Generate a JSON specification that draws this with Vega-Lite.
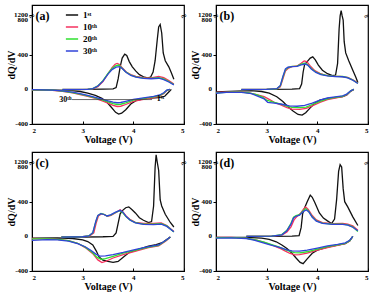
{
"$schema":"https://vega.github.io/schema/vega-lite/v6.json",
"padding":{"left":5,"top":4,"right":0,"bottom":0},
"config":{"font":"Liberation Serif","view":{"stroke":"black","strokeWidth":1.2},
"axis":{"grid":false,"labelOverlap":false,"labelFont":"Liberation Serif","labelFontWeight":"bold","labelFontSize":7,"labelColor":"black","titleFont":"Liberation Serif","titleFontWeight":"bold","titleFontSize":10,"titleColor":"black","domainColor":"black","tickColor":"black"}},
"datasets":{"ylab":[{"t":-400},{"t":0},{"t":400},{"t":800},{"t":1200}],"curves":[
{"p":"a","c":"1st","b":"c","v":2.6,"q":0},{"p":"a","c":"1st","b":"c","v":3.0,"q":0},{"p":"a","c":"1st","b":"c","v":3.4,"q":2},{"p":"a","c":"1st","b":"c","v":3.6,"q":5},{"p":"a","c":"1st","b":"c","v":3.66,"q":20},{"p":"a","c":"1st","b":"c","v":3.7,"q":120},{"p":"a","c":"1st","b":"c","v":3.74,"q":260},{"p":"a","c":"1st","b":"c","v":3.78,"q":360},{"p":"a","c":"1st","b":"c","v":3.83,"q":405},{"p":"a","c":"1st","b":"c","v":3.87,"q":390},{"p":"a","c":"1st","b":"c","v":3.92,"q":320},{"p":"a","c":"1st","b":"c","v":3.98,"q":260},{"p":"a","c":"1st","b":"c","v":4.05,"q":210},{"p":"a","c":"1st","b":"c","v":4.12,"q":170},{"p":"a","c":"1st","b":"c","v":4.2,"q":145},{"p":"a","c":"1st","b":"c","v":4.28,"q":132},{"p":"a","c":"1st","b":"c","v":4.34,"q":140},{"p":"a","c":"1st","b":"c","v":4.39,"q":200},{"p":"a","c":"1st","b":"c","v":4.43,"q":330},{"p":"a","c":"1st","b":"c","v":4.47,"q":560},{"p":"a","c":"1st","b":"c","v":4.5,"q":720},{"p":"a","c":"1st","b":"c","v":4.53,"q":748},{"p":"a","c":"1st","b":"c","v":4.56,"q":650},{"p":"a","c":"1st","b":"c","v":4.59,"q":420},{"p":"a","c":"1st","b":"c","v":4.63,"q":330},{"p":"a","c":"1st","b":"c","v":4.7,"q":260},{"p":"a","c":"1st","b":"c","v":4.75,"q":190},{"p":"a","c":"1st","b":"c","v":4.8,"q":116},
{"p":"a","c":"1st","b":"d","v":4.75,"q":0},{"p":"a","c":"1st","b":"d","v":4.7,"q":-30},{"p":"a","c":"1st","b":"d","v":4.62,"q":-80},{"p":"a","c":"1st","b":"d","v":4.5,"q":-95},{"p":"a","c":"1st","b":"d","v":4.35,"q":-100},{"p":"a","c":"1st","b":"d","v":4.2,"q":-110},{"p":"a","c":"1st","b":"d","v":4.05,"q":-130},{"p":"a","c":"1st","b":"d","v":3.95,"q":-170},{"p":"a","c":"1st","b":"d","v":3.85,"q":-235},{"p":"a","c":"1st","b":"d","v":3.77,"q":-275},{"p":"a","c":"1st","b":"d","v":3.71,"q":-285},{"p":"a","c":"1st","b":"d","v":3.65,"q":-265},{"p":"a","c":"1st","b":"d","v":3.57,"q":-210},{"p":"a","c":"1st","b":"d","v":3.48,"q":-150},{"p":"a","c":"1st","b":"d","v":3.38,"q":-105},{"p":"a","c":"1st","b":"d","v":3.25,"q":-70},{"p":"a","c":"1st","b":"d","v":3.1,"q":-45},{"p":"a","c":"1st","b":"d","v":2.95,"q":-25},{"p":"a","c":"1st","b":"d","v":2.75,"q":-12},{"p":"a","c":"1st","b":"d","v":2.5,"q":-8},{"p":"a","c":"1st","b":"d","v":2.0,"q":-5},
{"p":"a","c":"10th","b":"c","v":2.6,"q":-5},{"p":"a","c":"10th","b":"c","v":2.9,"q":-3},{"p":"a","c":"10th","b":"c","v":3.1,"q":0},{"p":"a","c":"10th","b":"c","v":3.2,"q":5},{"p":"a","c":"10th","b":"c","v":3.3,"q":30},{"p":"a","c":"10th","b":"c","v":3.4,"q":90},{"p":"a","c":"10th","b":"c","v":3.5,"q":180},{"p":"a","c":"10th","b":"c","v":3.58,"q":250},{"p":"a","c":"10th","b":"c","v":3.64,"q":290},{"p":"a","c":"10th","b":"c","v":3.68,"q":300},{"p":"a","c":"10th","b":"c","v":3.72,"q":290},{"p":"a","c":"10th","b":"c","v":3.78,"q":250},{"p":"a","c":"10th","b":"c","v":3.86,"q":200},{"p":"a","c":"10th","b":"c","v":3.95,"q":170},{"p":"a","c":"10th","b":"c","v":4.05,"q":150},{"p":"a","c":"10th","b":"c","v":4.2,"q":135},{"p":"a","c":"10th","b":"c","v":4.35,"q":132},{"p":"a","c":"10th","b":"c","v":4.5,"q":148},{"p":"a","c":"10th","b":"c","v":4.6,"q":135},{"p":"a","c":"10th","b":"c","v":4.7,"q":100},{"p":"a","c":"10th","b":"c","v":4.8,"q":62},
{"p":"a","c":"10th","b":"d","v":4.72,"q":0},{"p":"a","c":"10th","b":"d","v":4.66,"q":-15},{"p":"a","c":"10th","b":"d","v":4.6,"q":-50},{"p":"a","c":"10th","b":"d","v":4.52,"q":-75},{"p":"a","c":"10th","b":"d","v":4.4,"q":-95},{"p":"a","c":"10th","b":"d","v":4.2,"q":-115},{"p":"a","c":"10th","b":"d","v":4.0,"q":-140},{"p":"a","c":"10th","b":"d","v":3.85,"q":-175},{"p":"a","c":"10th","b":"d","v":3.75,"q":-195},{"p":"a","c":"10th","b":"d","v":3.68,"q":-198},{"p":"a","c":"10th","b":"d","v":3.6,"q":-185},{"p":"a","c":"10th","b":"d","v":3.5,"q":-160},{"p":"a","c":"10th","b":"d","v":3.4,"q":-135},{"p":"a","c":"10th","b":"d","v":3.25,"q":-105},{"p":"a","c":"10th","b":"d","v":3.1,"q":-80},{"p":"a","c":"10th","b":"d","v":2.95,"q":-60},{"p":"a","c":"10th","b":"d","v":2.8,"q":-40},{"p":"a","c":"10th","b":"d","v":2.6,"q":-22},{"p":"a","c":"10th","b":"d","v":2.4,"q":-12},{"p":"a","c":"10th","b":"d","v":2.0,"q":-8},
{"p":"a","c":"20th","b":"c","v":2.6,"q":-5},{"p":"a","c":"20th","b":"c","v":3.1,"q":0},{"p":"a","c":"20th","b":"c","v":3.2,"q":8},{"p":"a","c":"20th","b":"c","v":3.3,"q":40},{"p":"a","c":"20th","b":"c","v":3.4,"q":100},{"p":"a","c":"20th","b":"c","v":3.5,"q":185},{"p":"a","c":"20th","b":"c","v":3.58,"q":240},{"p":"a","c":"20th","b":"c","v":3.65,"q":270},{"p":"a","c":"20th","b":"c","v":3.71,"q":280},{"p":"a","c":"20th","b":"c","v":3.76,"q":255},{"p":"a","c":"20th","b":"c","v":3.84,"q":205},{"p":"a","c":"20th","b":"c","v":3.95,"q":165},{"p":"a","c":"20th","b":"c","v":4.05,"q":145},{"p":"a","c":"20th","b":"c","v":4.2,"q":130},{"p":"a","c":"20th","b":"c","v":4.35,"q":126},{"p":"a","c":"20th","b":"c","v":4.5,"q":135},{"p":"a","c":"20th","b":"c","v":4.6,"q":120},{"p":"a","c":"20th","b":"c","v":4.7,"q":90},{"p":"a","c":"20th","b":"c","v":4.8,"q":55},
{"p":"a","c":"20th","b":"d","v":4.72,"q":0},{"p":"a","c":"20th","b":"d","v":4.66,"q":-12},{"p":"a","c":"20th","b":"d","v":4.6,"q":-45},{"p":"a","c":"20th","b":"d","v":4.52,"q":-70},{"p":"a","c":"20th","b":"d","v":4.4,"q":-88},{"p":"a","c":"20th","b":"d","v":4.2,"q":-105},{"p":"a","c":"20th","b":"d","v":4.0,"q":-125},{"p":"a","c":"20th","b":"d","v":3.85,"q":-155},{"p":"a","c":"20th","b":"d","v":3.75,"q":-172},{"p":"a","c":"20th","b":"d","v":3.68,"q":-175},{"p":"a","c":"20th","b":"d","v":3.6,"q":-165},{"p":"a","c":"20th","b":"d","v":3.5,"q":-145},{"p":"a","c":"20th","b":"d","v":3.4,"q":-125},{"p":"a","c":"20th","b":"d","v":3.25,"q":-98},{"p":"a","c":"20th","b":"d","v":3.1,"q":-75},{"p":"a","c":"20th","b":"d","v":2.95,"q":-55},{"p":"a","c":"20th","b":"d","v":2.8,"q":-37},{"p":"a","c":"20th","b":"d","v":2.6,"q":-20},{"p":"a","c":"20th","b":"d","v":2.4,"q":-10},{"p":"a","c":"20th","b":"d","v":2.0,"q":-6},
{"p":"a","c":"30th","b":"c","v":2.6,"q":-3},{"p":"a","c":"30th","b":"c","v":3.1,"q":0},{"p":"a","c":"30th","b":"c","v":3.2,"q":8},{"p":"a","c":"30th","b":"c","v":3.3,"q":38},{"p":"a","c":"30th","b":"c","v":3.4,"q":95},{"p":"a","c":"30th","b":"c","v":3.5,"q":175},{"p":"a","c":"30th","b":"c","v":3.58,"q":228},{"p":"a","c":"30th","b":"c","v":3.66,"q":255},{"p":"a","c":"30th","b":"c","v":3.73,"q":262},{"p":"a","c":"30th","b":"c","v":3.78,"q":240},{"p":"a","c":"30th","b":"c","v":3.86,"q":195},{"p":"a","c":"30th","b":"c","v":3.95,"q":160},{"p":"a","c":"30th","b":"c","v":4.05,"q":140},{"p":"a","c":"30th","b":"c","v":4.2,"q":127},{"p":"a","c":"30th","b":"c","v":4.35,"q":122},{"p":"a","c":"30th","b":"c","v":4.5,"q":128},{"p":"a","c":"30th","b":"c","v":4.6,"q":112},{"p":"a","c":"30th","b":"c","v":4.7,"q":85},{"p":"a","c":"30th","b":"c","v":4.8,"q":52},
{"p":"a","c":"30th","b":"d","v":4.72,"q":0},{"p":"a","c":"30th","b":"d","v":4.66,"q":-10},{"p":"a","c":"30th","b":"d","v":4.6,"q":-40},{"p":"a","c":"30th","b":"d","v":4.52,"q":-65},{"p":"a","c":"30th","b":"d","v":4.4,"q":-82},{"p":"a","c":"30th","b":"d","v":4.2,"q":-98},{"p":"a","c":"30th","b":"d","v":4.0,"q":-115},{"p":"a","c":"30th","b":"d","v":3.85,"q":-138},{"p":"a","c":"30th","b":"d","v":3.75,"q":-152},{"p":"a","c":"30th","b":"d","v":3.68,"q":-155},{"p":"a","c":"30th","b":"d","v":3.6,"q":-148},{"p":"a","c":"30th","b":"d","v":3.5,"q":-132},{"p":"a","c":"30th","b":"d","v":3.4,"q":-115},{"p":"a","c":"30th","b":"d","v":3.25,"q":-92},{"p":"a","c":"30th","b":"d","v":3.1,"q":-70},{"p":"a","c":"30th","b":"d","v":2.95,"q":-50},{"p":"a","c":"30th","b":"d","v":2.8,"q":-33},{"p":"a","c":"30th","b":"d","v":2.6,"q":-18},{"p":"a","c":"30th","b":"d","v":2.4,"q":-8},{"p":"a","c":"30th","b":"d","v":2.0,"q":-3},
{"p":"b","c":"1st","b":"c","v":2.5,"q":0},{"p":"b","c":"1st","b":"c","v":3.0,"q":0},{"p":"b","c":"1st","b":"c","v":3.5,"q":2},{"p":"b","c":"1st","b":"c","v":3.65,"q":8},{"p":"b","c":"1st","b":"c","v":3.69,"q":60},{"p":"b","c":"1st","b":"c","v":3.72,"q":200},{"p":"b","c":"1st","b":"c","v":3.75,"q":290},{"p":"b","c":"1st","b":"c","v":3.8,"q":320},{"p":"b","c":"1st","b":"c","v":3.86,"q":360},{"p":"b","c":"1st","b":"c","v":3.91,"q":375},{"p":"b","c":"1st","b":"c","v":3.96,"q":340},{"p":"b","c":"1st","b":"c","v":4.02,"q":280},{"p":"b","c":"1st","b":"c","v":4.1,"q":220},{"p":"b","c":"1st","b":"c","v":4.2,"q":180},{"p":"b","c":"1st","b":"c","v":4.3,"q":158},{"p":"b","c":"1st","b":"c","v":4.36,"q":165},{"p":"b","c":"1st","b":"c","v":4.4,"q":300},{"p":"b","c":"1st","b":"c","v":4.43,"q":700},{"p":"b","c":"1st","b":"c","v":4.45,"q":1100},{"p":"b","c":"1st","b":"c","v":4.47,"q":1280},{"p":"b","c":"1st","b":"c","v":4.49,"q":1100},{"p":"b","c":"1st","b":"c","v":4.51,"q":800},{"p":"b","c":"1st","b":"c","v":4.53,"q":550},{"p":"b","c":"1st","b":"c","v":4.56,"q":420},{"p":"b","c":"1st","b":"c","v":4.62,"q":330},{"p":"b","c":"1st","b":"c","v":4.7,"q":220},{"p":"b","c":"1st","b":"c","v":4.76,"q":140},{"p":"b","c":"1st","b":"c","v":4.8,"q":80},
{"p":"b","c":"1st","b":"d","v":4.72,"q":0},{"p":"b","c":"1st","b":"d","v":4.66,"q":-20},{"p":"b","c":"1st","b":"d","v":4.58,"q":-65},{"p":"b","c":"1st","b":"d","v":4.5,"q":-85},{"p":"b","c":"1st","b":"d","v":4.35,"q":-95},{"p":"b","c":"1st","b":"d","v":4.2,"q":-105},{"p":"b","c":"1st","b":"d","v":4.05,"q":-125},{"p":"b","c":"1st","b":"d","v":3.95,"q":-160},{"p":"b","c":"1st","b":"d","v":3.85,"q":-220},{"p":"b","c":"1st","b":"d","v":3.77,"q":-270},{"p":"b","c":"1st","b":"d","v":3.7,"q":-298},{"p":"b","c":"1st","b":"d","v":3.62,"q":-290},{"p":"b","c":"1st","b":"d","v":3.52,"q":-250},{"p":"b","c":"1st","b":"d","v":3.42,"q":-200},{"p":"b","c":"1st","b":"d","v":3.32,"q":-140},{"p":"b","c":"1st","b":"d","v":3.2,"q":-85},{"p":"b","c":"1st","b":"d","v":3.05,"q":-45},{"p":"b","c":"1st","b":"d","v":2.9,"q":-25},{"p":"b","c":"1st","b":"d","v":2.7,"q":-15},{"p":"b","c":"1st","b":"d","v":2.4,"q":-20},{"p":"b","c":"1st","b":"d","v":2.0,"q":-30},
{"p":"b","c":"10th","b":"c","v":2.5,"q":-3},{"p":"b","c":"10th","b":"c","v":3.0,"q":0},{"p":"b","c":"10th","b":"c","v":3.2,"q":5},{"p":"b","c":"10th","b":"c","v":3.27,"q":30},{"p":"b","c":"10th","b":"c","v":3.32,"q":120},{"p":"b","c":"10th","b":"c","v":3.37,"q":210},{"p":"b","c":"10th","b":"c","v":3.42,"q":240},{"p":"b","c":"10th","b":"c","v":3.5,"q":262},{"p":"b","c":"10th","b":"c","v":3.6,"q":270},{"p":"b","c":"10th","b":"c","v":3.68,"q":300},{"p":"b","c":"10th","b":"c","v":3.74,"q":328},{"p":"b","c":"10th","b":"c","v":3.79,"q":320},{"p":"b","c":"10th","b":"c","v":3.86,"q":270},{"p":"b","c":"10th","b":"c","v":3.95,"q":215},{"p":"b","c":"10th","b":"c","v":4.05,"q":185},{"p":"b","c":"10th","b":"c","v":4.15,"q":165},{"p":"b","c":"10th","b":"c","v":4.3,"q":152},{"p":"b","c":"10th","b":"c","v":4.45,"q":150},{"p":"b","c":"10th","b":"c","v":4.6,"q":138},{"p":"b","c":"10th","b":"c","v":4.7,"q":110},{"p":"b","c":"10th","b":"c","v":4.8,"q":75},
{"p":"b","c":"10th","b":"d","v":4.72,"q":0},{"p":"b","c":"10th","b":"d","v":4.66,"q":-20},{"p":"b","c":"10th","b":"d","v":4.58,"q":-65},{"p":"b","c":"10th","b":"d","v":4.5,"q":-85},{"p":"b","c":"10th","b":"d","v":4.35,"q":-100},{"p":"b","c":"10th","b":"d","v":4.2,"q":-120},{"p":"b","c":"10th","b":"d","v":4.05,"q":-150},{"p":"b","c":"10th","b":"d","v":3.9,"q":-190},{"p":"b","c":"10th","b":"d","v":3.78,"q":-220},{"p":"b","c":"10th","b":"d","v":3.65,"q":-232},{"p":"b","c":"10th","b":"d","v":3.5,"q":-228},{"p":"b","c":"10th","b":"d","v":3.4,"q":-210},{"p":"b","c":"10th","b":"d","v":3.28,"q":-180},{"p":"b","c":"10th","b":"d","v":3.15,"q":-150},{"p":"b","c":"10th","b":"d","v":3.05,"q":-115},{"p":"b","c":"10th","b":"d","v":2.95,"q":-85},{"p":"b","c":"10th","b":"d","v":2.8,"q":-60},{"p":"b","c":"10th","b":"d","v":2.65,"q":-40},{"p":"b","c":"10th","b":"d","v":2.5,"q":-30},{"p":"b","c":"10th","b":"d","v":2.3,"q":-30},{"p":"b","c":"10th","b":"d","v":2.0,"q":-35},
{"p":"b","c":"20th","b":"c","v":2.5,"q":-3},{"p":"b","c":"20th","b":"c","v":3.0,"q":0},{"p":"b","c":"20th","b":"c","v":3.2,"q":6},{"p":"b","c":"20th","b":"c","v":3.27,"q":40},{"p":"b","c":"20th","b":"c","v":3.32,"q":140},{"p":"b","c":"20th","b":"c","v":3.37,"q":225},{"p":"b","c":"20th","b":"c","v":3.42,"q":250},{"p":"b","c":"20th","b":"c","v":3.5,"q":265},{"p":"b","c":"20th","b":"c","v":3.6,"q":268},{"p":"b","c":"20th","b":"c","v":3.68,"q":290},{"p":"b","c":"20th","b":"c","v":3.75,"q":303},{"p":"b","c":"20th","b":"c","v":3.8,"q":290},{"p":"b","c":"20th","b":"c","v":3.88,"q":240},{"p":"b","c":"20th","b":"c","v":3.97,"q":200},{"p":"b","c":"20th","b":"c","v":4.07,"q":175},{"p":"b","c":"20th","b":"c","v":4.2,"q":158},{"p":"b","c":"20th","b":"c","v":4.35,"q":150},{"p":"b","c":"20th","b":"c","v":4.5,"q":148},{"p":"b","c":"20th","b":"c","v":4.6,"q":135},{"p":"b","c":"20th","b":"c","v":4.7,"q":108},{"p":"b","c":"20th","b":"c","v":4.8,"q":70},
{"p":"b","c":"20th","b":"d","v":4.72,"q":0},{"p":"b","c":"20th","b":"d","v":4.66,"q":-18},{"p":"b","c":"20th","b":"d","v":4.58,"q":-60},{"p":"b","c":"20th","b":"d","v":4.5,"q":-80},{"p":"b","c":"20th","b":"d","v":4.35,"q":-92},{"p":"b","c":"20th","b":"d","v":4.2,"q":-110},{"p":"b","c":"20th","b":"d","v":4.05,"q":-138},{"p":"b","c":"20th","b":"d","v":3.9,"q":-175},{"p":"b","c":"20th","b":"d","v":3.78,"q":-205},{"p":"b","c":"20th","b":"d","v":3.65,"q":-212},{"p":"b","c":"20th","b":"d","v":3.5,"q":-208},{"p":"b","c":"20th","b":"d","v":3.4,"q":-195},{"p":"b","c":"20th","b":"d","v":3.28,"q":-170},{"p":"b","c":"20th","b":"d","v":3.15,"q":-150},{"p":"b","c":"20th","b":"d","v":3.0,"q":-125},{"p":"b","c":"20th","b":"d","v":2.92,"q":-90},{"p":"b","c":"20th","b":"d","v":2.8,"q":-60},{"p":"b","c":"20th","b":"d","v":2.65,"q":-40},{"p":"b","c":"20th","b":"d","v":2.5,"q":-32},{"p":"b","c":"20th","b":"d","v":2.3,"q":-32},{"p":"b","c":"20th","b":"d","v":2.0,"q":-40},
{"p":"b","c":"30th","b":"c","v":2.5,"q":-3},{"p":"b","c":"30th","b":"c","v":3.0,"q":0},{"p":"b","c":"30th","b":"c","v":3.2,"q":8},{"p":"b","c":"30th","b":"c","v":3.27,"q":45},{"p":"b","c":"30th","b":"c","v":3.32,"q":150},{"p":"b","c":"30th","b":"c","v":3.37,"q":235},{"p":"b","c":"30th","b":"c","v":3.42,"q":255},{"p":"b","c":"30th","b":"c","v":3.5,"q":262},{"p":"b","c":"30th","b":"c","v":3.6,"q":265},{"p":"b","c":"30th","b":"c","v":3.68,"q":282},{"p":"b","c":"30th","b":"c","v":3.76,"q":292},{"p":"b","c":"30th","b":"c","v":3.81,"q":280},{"p":"b","c":"30th","b":"c","v":3.88,"q":235},{"p":"b","c":"30th","b":"c","v":3.97,"q":195},{"p":"b","c":"30th","b":"c","v":4.07,"q":170},{"p":"b","c":"30th","b":"c","v":4.2,"q":155},{"p":"b","c":"30th","b":"c","v":4.35,"q":148},{"p":"b","c":"30th","b":"c","v":4.5,"q":145},{"p":"b","c":"30th","b":"c","v":4.6,"q":132},{"p":"b","c":"30th","b":"c","v":4.7,"q":105},{"p":"b","c":"30th","b":"c","v":4.8,"q":68},
{"p":"b","c":"30th","b":"d","v":4.72,"q":0},{"p":"b","c":"30th","b":"d","v":4.66,"q":-16},{"p":"b","c":"30th","b":"d","v":4.58,"q":-55},{"p":"b","c":"30th","b":"d","v":4.5,"q":-75},{"p":"b","c":"30th","b":"d","v":4.35,"q":-88},{"p":"b","c":"30th","b":"d","v":4.2,"q":-100},{"p":"b","c":"30th","b":"d","v":4.05,"q":-125},{"p":"b","c":"30th","b":"d","v":3.9,"q":-160},{"p":"b","c":"30th","b":"d","v":3.75,"q":-185},{"p":"b","c":"30th","b":"d","v":3.6,"q":-195},{"p":"b","c":"30th","b":"d","v":3.45,"q":-190},{"p":"b","c":"30th","b":"d","v":3.3,"q":-172},{"p":"b","c":"30th","b":"d","v":3.15,"q":-160},{"p":"b","c":"30th","b":"d","v":3.02,"q":-150},{"p":"b","c":"30th","b":"d","v":2.95,"q":-110},{"p":"b","c":"30th","b":"d","v":2.82,"q":-78},{"p":"b","c":"30th","b":"d","v":2.7,"q":-50},{"p":"b","c":"30th","b":"d","v":2.5,"q":-35},{"p":"b","c":"30th","b":"d","v":2.2,"q":-35},{"p":"b","c":"30th","b":"d","v":2.0,"q":-45},
{"p":"c","c":"1st","b":"c","v":2.58,"q":-8},{"p":"c","c":"1st","b":"c","v":3.0,"q":-8},{"p":"c","c":"1st","b":"c","v":3.4,"q":-5},{"p":"c","c":"1st","b":"c","v":3.6,"q":0},{"p":"c","c":"1st","b":"c","v":3.66,"q":40},{"p":"c","c":"1st","b":"c","v":3.7,"q":150},{"p":"c","c":"1st","b":"c","v":3.74,"q":260},{"p":"c","c":"1st","b":"c","v":3.79,"q":300},{"p":"c","c":"1st","b":"c","v":3.85,"q":330},{"p":"c","c":"1st","b":"c","v":3.91,"q":340},{"p":"c","c":"1st","b":"c","v":3.97,"q":310},{"p":"c","c":"1st","b":"c","v":4.04,"q":270},{"p":"c","c":"1st","b":"c","v":4.12,"q":215},{"p":"c","c":"1st","b":"c","v":4.2,"q":185},{"p":"c","c":"1st","b":"c","v":4.3,"q":158},{"p":"c","c":"1st","b":"c","v":4.36,"q":170},{"p":"c","c":"1st","b":"c","v":4.4,"q":350},{"p":"c","c":"1st","b":"c","v":4.43,"q":800},{"p":"c","c":"1st","b":"c","v":4.45,"q":1340},{"p":"c","c":"1st","b":"c","v":4.47,"q":1200},{"p":"c","c":"1st","b":"c","v":4.5,"q":760},{"p":"c","c":"1st","b":"c","v":4.53,"q":420},{"p":"c","c":"1st","b":"c","v":4.56,"q":350},{"p":"c","c":"1st","b":"c","v":4.63,"q":255},{"p":"c","c":"1st","b":"c","v":4.73,"q":160},{"p":"c","c":"1st","b":"c","v":4.8,"q":108},
{"p":"c","c":"1st","b":"d","v":4.73,"q":-8},{"p":"c","c":"1st","b":"d","v":4.65,"q":-40},{"p":"c","c":"1st","b":"d","v":4.57,"q":-73},{"p":"c","c":"1st","b":"d","v":4.45,"q":-95},{"p":"c","c":"1st","b":"d","v":4.3,"q":-112},{"p":"c","c":"1st","b":"d","v":4.1,"q":-150},{"p":"c","c":"1st","b":"d","v":3.91,"q":-189},{"p":"c","c":"1st","b":"d","v":3.8,"q":-240},{"p":"c","c":"1st","b":"d","v":3.7,"q":-290},{"p":"c","c":"1st","b":"d","v":3.6,"q":-300},{"p":"c","c":"1st","b":"d","v":3.5,"q":-290},{"p":"c","c":"1st","b":"d","v":3.4,"q":-275},{"p":"c","c":"1st","b":"d","v":3.32,"q":-235},{"p":"c","c":"1st","b":"d","v":3.27,"q":-170},{"p":"c","c":"1st","b":"d","v":3.2,"q":-100},{"p":"c","c":"1st","b":"d","v":3.1,"q":-60},{"p":"c","c":"1st","b":"d","v":3.0,"q":-40},{"p":"c","c":"1st","b":"d","v":2.8,"q":-25},{"p":"c","c":"1st","b":"d","v":2.5,"q":-18},{"p":"c","c":"1st","b":"d","v":2.0,"q":-20},
{"p":"c","c":"10th","b":"c","v":2.58,"q":-8},{"p":"c","c":"10th","b":"c","v":3.0,"q":-5},{"p":"c","c":"10th","b":"c","v":3.14,"q":5},{"p":"c","c":"10th","b":"c","v":3.22,"q":40},{"p":"c","c":"10th","b":"c","v":3.27,"q":160},{"p":"c","c":"10th","b":"c","v":3.31,"q":235},{"p":"c","c":"10th","b":"c","v":3.37,"q":258},{"p":"c","c":"10th","b":"c","v":3.43,"q":250},{"p":"c","c":"10th","b":"c","v":3.49,"q":232},{"p":"c","c":"10th","b":"c","v":3.56,"q":242},{"p":"c","c":"10th","b":"c","v":3.66,"q":275},{"p":"c","c":"10th","b":"c","v":3.74,"q":305},{"p":"c","c":"10th","b":"c","v":3.79,"q":285},{"p":"c","c":"10th","b":"c","v":3.86,"q":232},{"p":"c","c":"10th","b":"c","v":3.94,"q":192},{"p":"c","c":"10th","b":"c","v":4.04,"q":162},{"p":"c","c":"10th","b":"c","v":4.2,"q":148},{"p":"c","c":"10th","b":"c","v":4.4,"q":148},{"p":"c","c":"10th","b":"c","v":4.55,"q":155},{"p":"c","c":"10th","b":"c","v":4.66,"q":125},{"p":"c","c":"10th","b":"c","v":4.8,"q":55},
{"p":"c","c":"10th","b":"d","v":4.73,"q":-8},{"p":"c","c":"10th","b":"d","v":4.65,"q":-50},{"p":"c","c":"10th","b":"d","v":4.5,"q":-110},{"p":"c","c":"10th","b":"d","v":4.3,"q":-130},{"p":"c","c":"10th","b":"d","v":4.05,"q":-170},{"p":"c","c":"10th","b":"d","v":3.8,"q":-210},{"p":"c","c":"10th","b":"d","v":3.6,"q":-250},{"p":"c","c":"10th","b":"d","v":3.45,"q":-290},{"p":"c","c":"10th","b":"d","v":3.38,"q":-302},{"p":"c","c":"10th","b":"d","v":3.3,"q":-272},{"p":"c","c":"10th","b":"d","v":3.2,"q":-200},{"p":"c","c":"10th","b":"d","v":3.05,"q":-130},{"p":"c","c":"10th","b":"d","v":2.9,"q":-80},{"p":"c","c":"10th","b":"d","v":2.72,"q":-50},{"p":"c","c":"10th","b":"d","v":2.5,"q":-35},{"p":"c","c":"10th","b":"d","v":2.3,"q":-30},{"p":"c","c":"10th","b":"d","v":2.0,"q":-25},
{"p":"c","c":"20th","b":"c","v":2.58,"q":-8},{"p":"c","c":"20th","b":"c","v":3.0,"q":-5},{"p":"c","c":"20th","b":"c","v":3.12,"q":5},{"p":"c","c":"20th","b":"c","v":3.2,"q":40},{"p":"c","c":"20th","b":"c","v":3.26,"q":170},{"p":"c","c":"20th","b":"c","v":3.3,"q":240},{"p":"c","c":"20th","b":"c","v":3.36,"q":265},{"p":"c","c":"20th","b":"c","v":3.42,"q":255},{"p":"c","c":"20th","b":"c","v":3.48,"q":235},{"p":"c","c":"20th","b":"c","v":3.55,"q":245},{"p":"c","c":"20th","b":"c","v":3.65,"q":275},{"p":"c","c":"20th","b":"c","v":3.73,"q":295},{"p":"c","c":"20th","b":"c","v":3.78,"q":280},{"p":"c","c":"20th","b":"c","v":3.85,"q":230},{"p":"c","c":"20th","b":"c","v":3.93,"q":190},{"p":"c","c":"20th","b":"c","v":4.04,"q":158},{"p":"c","c":"20th","b":"c","v":4.2,"q":140},{"p":"c","c":"20th","b":"c","v":4.4,"q":140},{"p":"c","c":"20th","b":"c","v":4.55,"q":145},{"p":"c","c":"20th","b":"c","v":4.66,"q":120},{"p":"c","c":"20th","b":"c","v":4.8,"q":50},
{"p":"c","c":"20th","b":"d","v":4.73,"q":-8},{"p":"c","c":"20th","b":"d","v":4.65,"q":-45},{"p":"c","c":"20th","b":"d","v":4.5,"q":-105},{"p":"c","c":"20th","b":"d","v":4.3,"q":-125},{"p":"c","c":"20th","b":"d","v":4.05,"q":-160},{"p":"c","c":"20th","b":"d","v":3.8,"q":-195},{"p":"c","c":"20th","b":"d","v":3.6,"q":-230},{"p":"c","c":"20th","b":"d","v":3.45,"q":-258},{"p":"c","c":"20th","b":"d","v":3.36,"q":-265},{"p":"c","c":"20th","b":"d","v":3.28,"q":-240},{"p":"c","c":"20th","b":"d","v":3.18,"q":-180},{"p":"c","c":"20th","b":"d","v":3.05,"q":-125},{"p":"c","c":"20th","b":"d","v":2.9,"q":-80},{"p":"c","c":"20th","b":"d","v":2.72,"q":-50},{"p":"c","c":"20th","b":"d","v":2.5,"q":-35},{"p":"c","c":"20th","b":"d","v":2.3,"q":-30},{"p":"c","c":"20th","b":"d","v":2.0,"q":-30},
{"p":"c","c":"30th","b":"c","v":2.58,"q":-8},{"p":"c","c":"30th","b":"c","v":3.0,"q":-5},{"p":"c","c":"30th","b":"c","v":3.12,"q":5},{"p":"c","c":"30th","b":"c","v":3.2,"q":42},{"p":"c","c":"30th","b":"c","v":3.26,"q":175},{"p":"c","c":"30th","b":"c","v":3.3,"q":242},{"p":"c","c":"30th","b":"c","v":3.36,"q":262},{"p":"c","c":"30th","b":"c","v":3.42,"q":252},{"p":"c","c":"30th","b":"c","v":3.48,"q":235},{"p":"c","c":"30th","b":"c","v":3.55,"q":248},{"p":"c","c":"30th","b":"c","v":3.65,"q":280},{"p":"c","c":"30th","b":"c","v":3.74,"q":300},{"p":"c","c":"30th","b":"c","v":3.79,"q":282},{"p":"c","c":"30th","b":"c","v":3.86,"q":228},{"p":"c","c":"30th","b":"c","v":3.94,"q":186},{"p":"c","c":"30th","b":"c","v":4.04,"q":155},{"p":"c","c":"30th","b":"c","v":4.2,"q":138},{"p":"c","c":"30th","b":"c","v":4.4,"q":136},{"p":"c","c":"30th","b":"c","v":4.55,"q":140},{"p":"c","c":"30th","b":"c","v":4.66,"q":115},{"p":"c","c":"30th","b":"c","v":4.8,"q":52},
{"p":"c","c":"30th","b":"d","v":4.73,"q":-8},{"p":"c","c":"30th","b":"d","v":4.65,"q":-42},{"p":"c","c":"30th","b":"d","v":4.5,"q":-100},{"p":"c","c":"30th","b":"d","v":4.3,"q":-118},{"p":"c","c":"30th","b":"d","v":4.05,"q":-150},{"p":"c","c":"30th","b":"d","v":3.8,"q":-185},{"p":"c","c":"30th","b":"d","v":3.6,"q":-210},{"p":"c","c":"30th","b":"d","v":3.45,"q":-225},{"p":"c","c":"30th","b":"d","v":3.34,"q":-228},{"p":"c","c":"30th","b":"d","v":3.26,"q":-205},{"p":"c","c":"30th","b":"d","v":3.16,"q":-160},{"p":"c","c":"30th","b":"d","v":3.05,"q":-120},{"p":"c","c":"30th","b":"d","v":2.9,"q":-85},{"p":"c","c":"30th","b":"d","v":2.72,"q":-55},{"p":"c","c":"30th","b":"d","v":2.5,"q":-40},{"p":"c","c":"30th","b":"d","v":2.3,"q":-38},{"p":"c","c":"30th","b":"d","v":2.0,"q":-46},
{"p":"d","c":"1st","b":"c","v":2.6,"q":0},{"p":"d","c":"1st","b":"c","v":3.0,"q":0},{"p":"d","c":"1st","b":"c","v":3.5,"q":2},{"p":"d","c":"1st","b":"c","v":3.64,"q":8},{"p":"d","c":"1st","b":"c","v":3.68,"q":100},{"p":"d","c":"1st","b":"c","v":3.71,"q":260},{"p":"d","c":"1st","b":"c","v":3.75,"q":330},{"p":"d","c":"1st","b":"c","v":3.8,"q":400},{"p":"d","c":"1st","b":"c","v":3.86,"q":475},{"p":"d","c":"1st","b":"c","v":3.9,"q":450},{"p":"d","c":"1st","b":"c","v":3.95,"q":390},{"p":"d","c":"1st","b":"c","v":4.04,"q":270},{"p":"d","c":"1st","b":"c","v":4.12,"q":210},{"p":"d","c":"1st","b":"c","v":4.2,"q":178},{"p":"d","c":"1st","b":"c","v":4.28,"q":148},{"p":"d","c":"1st","b":"c","v":4.34,"q":200},{"p":"d","c":"1st","b":"c","v":4.38,"q":420},{"p":"d","c":"1st","b":"c","v":4.42,"q":750},{"p":"d","c":"1st","b":"c","v":4.45,"q":975},{"p":"d","c":"1st","b":"c","v":4.48,"q":800},{"p":"d","c":"1st","b":"c","v":4.51,"q":550},{"p":"d","c":"1st","b":"c","v":4.54,"q":400},{"p":"d","c":"1st","b":"c","v":4.6,"q":340},{"p":"d","c":"1st","b":"c","v":4.7,"q":225},{"p":"d","c":"1st","b":"c","v":4.8,"q":125},
{"p":"d","c":"1st","b":"d","v":4.7,"q":0},{"p":"d","c":"1st","b":"d","v":4.64,"q":-50},{"p":"d","c":"1st","b":"d","v":4.55,"q":-85},{"p":"d","c":"1st","b":"d","v":4.4,"q":-100},{"p":"d","c":"1st","b":"d","v":4.2,"q":-125},{"p":"d","c":"1st","b":"d","v":4.0,"q":-160},{"p":"d","c":"1st","b":"d","v":3.9,"q":-195},{"p":"d","c":"1st","b":"d","v":3.8,"q":-260},{"p":"d","c":"1st","b":"d","v":3.72,"q":-315},{"p":"d","c":"1st","b":"d","v":3.66,"q":-300},{"p":"d","c":"1st","b":"d","v":3.58,"q":-250},{"p":"d","c":"1st","b":"d","v":3.5,"q":-195},{"p":"d","c":"1st","b":"d","v":3.4,"q":-140},{"p":"d","c":"1st","b":"d","v":3.3,"q":-100},{"p":"d","c":"1st","b":"d","v":3.19,"q":-63},{"p":"d","c":"1st","b":"d","v":3.05,"q":-35},{"p":"d","c":"1st","b":"d","v":2.9,"q":-20},{"p":"d","c":"1st","b":"d","v":2.6,"q":-12},{"p":"d","c":"1st","b":"d","v":2.0,"q":-12},
{"p":"d","c":"10th","b":"c","v":2.6,"q":0},{"p":"d","c":"10th","b":"c","v":3.1,"q":2},{"p":"d","c":"10th","b":"c","v":3.3,"q":15},{"p":"d","c":"10th","b":"c","v":3.4,"q":50},{"p":"d","c":"10th","b":"c","v":3.48,"q":110},{"p":"d","c":"10th","b":"c","v":3.54,"q":190},{"p":"d","c":"10th","b":"c","v":3.6,"q":230},{"p":"d","c":"10th","b":"c","v":3.67,"q":265},{"p":"d","c":"10th","b":"c","v":3.73,"q":315},{"p":"d","c":"10th","b":"c","v":3.77,"q":340},{"p":"d","c":"10th","b":"c","v":3.82,"q":310},{"p":"d","c":"10th","b":"c","v":3.9,"q":240},{"p":"d","c":"10th","b":"c","v":3.98,"q":190},{"p":"d","c":"10th","b":"c","v":4.1,"q":158},{"p":"d","c":"10th","b":"c","v":4.3,"q":145},{"p":"d","c":"10th","b":"c","v":4.5,"q":150},{"p":"d","c":"10th","b":"c","v":4.6,"q":140},{"p":"d","c":"10th","b":"c","v":4.7,"q":120},{"p":"d","c":"10th","b":"c","v":4.8,"q":70},
{"p":"d","c":"10th","b":"d","v":4.7,"q":0},{"p":"d","c":"10th","b":"d","v":4.64,"q":-55},{"p":"d","c":"10th","b":"d","v":4.55,"q":-85},{"p":"d","c":"10th","b":"d","v":4.4,"q":-105},{"p":"d","c":"10th","b":"d","v":4.2,"q":-130},{"p":"d","c":"10th","b":"d","v":4.0,"q":-160},{"p":"d","c":"10th","b":"d","v":3.8,"q":-195},{"p":"d","c":"10th","b":"d","v":3.65,"q":-212},{"p":"d","c":"10th","b":"d","v":3.55,"q":-215},{"p":"d","c":"10th","b":"d","v":3.45,"q":-195},{"p":"d","c":"10th","b":"d","v":3.35,"q":-165},{"p":"d","c":"10th","b":"d","v":3.25,"q":-135},{"p":"d","c":"10th","b":"d","v":3.1,"q":-100},{"p":"d","c":"10th","b":"d","v":2.95,"q":-70},{"p":"d","c":"10th","b":"d","v":2.8,"q":-45},{"p":"d","c":"10th","b":"d","v":2.6,"q":-20},{"p":"d","c":"10th","b":"d","v":2.3,"q":-12},{"p":"d","c":"10th","b":"d","v":2.0,"q":-12},
{"p":"d","c":"20th","b":"c","v":2.6,"q":0},{"p":"d","c":"20th","b":"c","v":3.1,"q":2},{"p":"d","c":"20th","b":"c","v":3.3,"q":20},{"p":"d","c":"20th","b":"c","v":3.4,"q":70},{"p":"d","c":"20th","b":"c","v":3.48,"q":150},{"p":"d","c":"20th","b":"c","v":3.53,"q":220},{"p":"d","c":"20th","b":"c","v":3.58,"q":238},{"p":"d","c":"20th","b":"c","v":3.65,"q":250},{"p":"d","c":"20th","b":"c","v":3.72,"q":295},{"p":"d","c":"20th","b":"c","v":3.77,"q":320},{"p":"d","c":"20th","b":"c","v":3.82,"q":295},{"p":"d","c":"20th","b":"c","v":3.9,"q":225},{"p":"d","c":"20th","b":"c","v":3.98,"q":180},{"p":"d","c":"20th","b":"c","v":4.1,"q":152},{"p":"d","c":"20th","b":"c","v":4.3,"q":140},{"p":"d","c":"20th","b":"c","v":4.5,"q":142},{"p":"d","c":"20th","b":"c","v":4.6,"q":133},{"p":"d","c":"20th","b":"c","v":4.7,"q":110},{"p":"d","c":"20th","b":"c","v":4.8,"q":55},
{"p":"d","c":"20th","b":"d","v":4.7,"q":0},{"p":"d","c":"20th","b":"d","v":4.64,"q":-50},{"p":"d","c":"20th","b":"d","v":4.55,"q":-80},{"p":"d","c":"20th","b":"d","v":4.4,"q":-98},{"p":"d","c":"20th","b":"d","v":4.2,"q":-120},{"p":"d","c":"20th","b":"d","v":4.0,"q":-148},{"p":"d","c":"20th","b":"d","v":3.8,"q":-178},{"p":"d","c":"20th","b":"d","v":3.65,"q":-190},{"p":"d","c":"20th","b":"d","v":3.55,"q":-188},{"p":"d","c":"20th","b":"d","v":3.45,"q":-172},{"p":"d","c":"20th","b":"d","v":3.35,"q":-150},{"p":"d","c":"20th","b":"d","v":3.25,"q":-125},{"p":"d","c":"20th","b":"d","v":3.1,"q":-95},{"p":"d","c":"20th","b":"d","v":2.95,"q":-68},{"p":"d","c":"20th","b":"d","v":2.8,"q":-45},{"p":"d","c":"20th","b":"d","v":2.6,"q":-22},{"p":"d","c":"20th","b":"d","v":2.3,"q":-15},{"p":"d","c":"20th","b":"d","v":2.0,"q":-15},
{"p":"d","c":"30th","b":"c","v":2.6,"q":0},{"p":"d","c":"30th","b":"c","v":3.1,"q":2},{"p":"d","c":"30th","b":"c","v":3.3,"q":18},{"p":"d","c":"30th","b":"c","v":3.4,"q":65},{"p":"d","c":"30th","b":"c","v":3.48,"q":140},{"p":"d","c":"30th","b":"c","v":3.53,"q":212},{"p":"d","c":"30th","b":"c","v":3.58,"q":232},{"p":"d","c":"30th","b":"c","v":3.65,"q":245},{"p":"d","c":"30th","b":"c","v":3.72,"q":285},{"p":"d","c":"30th","b":"c","v":3.78,"q":305},{"p":"d","c":"30th","b":"c","v":3.83,"q":285},{"p":"d","c":"30th","b":"c","v":3.9,"q":220},{"p":"d","c":"30th","b":"c","v":3.98,"q":175},{"p":"d","c":"30th","b":"c","v":4.1,"q":150},{"p":"d","c":"30th","b":"c","v":4.3,"q":138},{"p":"d","c":"30th","b":"c","v":4.5,"q":138},{"p":"d","c":"30th","b":"c","v":4.6,"q":130},{"p":"d","c":"30th","b":"c","v":4.7,"q":105},{"p":"d","c":"30th","b":"c","v":4.8,"q":65},
{"p":"d","c":"30th","b":"d","v":4.7,"q":0},{"p":"d","c":"30th","b":"d","v":4.64,"q":-45},{"p":"d","c":"30th","b":"d","v":4.55,"q":-75},{"p":"d","c":"30th","b":"d","v":4.4,"q":-92},{"p":"d","c":"30th","b":"d","v":4.2,"q":-110},{"p":"d","c":"30th","b":"d","v":4.0,"q":-135},{"p":"d","c":"30th","b":"d","v":3.8,"q":-160},{"p":"d","c":"30th","b":"d","v":3.65,"q":-170},{"p":"d","c":"30th","b":"d","v":3.5,"q":-168},{"p":"d","c":"30th","b":"d","v":3.4,"q":-155},{"p":"d","c":"30th","b":"d","v":3.3,"q":-135},{"p":"d","c":"30th","b":"d","v":3.2,"q":-118},{"p":"d","c":"30th","b":"d","v":3.05,"q":-95},{"p":"d","c":"30th","b":"d","v":2.9,"q":-70},{"p":"d","c":"30th","b":"d","v":2.75,"q":-45},{"p":"d","c":"30th","b":"d","v":2.6,"q":-25},{"p":"d","c":"30th","b":"d","v":2.3,"q":-18},{"p":"d","c":"30th","b":"d","v":2.0,"q":-20}
]},
"columns":2,
"spacing":{"row":28,"column":32},
"bounds":"flush",
"resolve":{"legend":{"color":"independent"}},
"concat":[
{"width":152,"height":119,"layer":[
 {"data":{"name":"curves"},"transform":[{"filter":"datum.p == 'a'"}],"mark":{"type":"line","strokeWidth":1.3},
  "encoding":{
   "x":{"field":"v","type":"quantitative","scale":{"domain":[2,5],"nice":false,"zero":false},"axis":{"title":"Voltage (V)","values":[2,2.5,3,3.5,4,4.5,5],"labelExpr":"datum.value % 1 == 0 ? '' + datum.value : ''","tickSize":-3,"labelPadding":5,"titlePadding":1,"labelOverlap":false}},
   "y":{"field":"q","type":"quantitative","scale":{"domain":[-400,800,1200,1400],"range":[119,15,9.5,0],"nice":false,"zero":false},"axis":{"title":"dQ/dV","values":[-400,0,400,800,1200],"labels":false,"tickSize":3,"titlePadding":12,"labelOverlap":false}},
   "color":{"field":"c","type":"nominal","scale":{"domain":["1st","10th","20th","30th"],"range":["#111111","#f5325f","#2fe02f","#3043d8"]},
     "legend":{"orient":"none","legendX":33,"legendY":3,"title":null,"padding":0,"symbolType":"stroke","symbolSize":150,"symbolStrokeWidth":1.5,"rowPadding":-2,"labelFont":"Liberation Serif","labelFontWeight":"bold","labelFontSize":9,"labelColor":"black","labelExpr":"datum.label == '1st' ? '1ˢᵗ' : replace(datum.label, 'th', 'ᵗʰ')"}},
   "detail":{"field":"b"},
   "order":{"value":null}}},
 {"data":{"name":"ylab"},"mark":{"type":"text","align":"right","baseline":"middle","dx":-4,"fontSize":7,"fontWeight":"bold","font":"Liberation Serif","color":"black"},"encoding":{"x":{"datum":2,"axis":{"labelOverlap":false}},"y":{"field":"t","type":"quantitative","axis":{"labelOverlap":false}},"text":{"field":"t","type":"nominal"}}},
 {"data":{"values":[{}]},"mark":{"type":"text","align":"left","baseline":"middle","fontSize":12,"fontWeight":"bold","font":"Liberation Serif"},"encoding":{"x":{"datum":2.07,"axis":{"labelOverlap":false}},"y":{"datum":1060,"axis":{"labelOverlap":false}},"text":{"value":"(a)"}}},
 {"data":{"values":[{"v":2},{"v":5}]},"mark":{"type":"text","fontSize":8,"font":"DejaVu Sans","angle":-25},"encoding":{"x":{"field":"v","type":"quantitative","axis":{"labelOverlap":false}},"y":{"datum":1050,"axis":{"labelOverlap":false}},"text":{"value":"≈"}}},
 {"data":{"values":[{"v1":2.79,"v2":4.37,"q":-118}]},"mark":{"type":"rule","color":"#444","strokeWidth":0.8},"encoding":{"x":{"field":"v1","type":"quantitative","axis":{"labelOverlap":false}},"x2":{"field":"v2"},"y":{"field":"q","type":"quantitative","axis":{"labelOverlap":false}}}},
 {"data":{"values":[{}]},"mark":{"type":"text","align":"right","baseline":"middle","fontSize":8,"fontWeight":"bold","font":"Liberation Serif"},"encoding":{"x":{"datum":2.78,"axis":{"labelOverlap":false}},"y":{"datum":-128,"axis":{"labelOverlap":false}},"text":{"value":"30ᵗʰ"}}},
 {"data":{"values":[{}]},"mark":{"type":"text","align":"left","baseline":"middle","fontSize":8,"fontWeight":"bold","font":"Liberation Serif"},"encoding":{"x":{"datum":4.46,"axis":{"labelOverlap":false}},"y":{"datum":-115,"axis":{"labelOverlap":false}},"text":{"value":"1ˢᵗ"}}}
]},
{"width":152,"height":119,"layer":[
 {"data":{"name":"curves"},"transform":[{"filter":"datum.p == 'b'"}],"mark":{"type":"line","strokeWidth":1.3},
  "encoding":{
   "x":{"field":"v","type":"quantitative","scale":{"domain":[2,5],"nice":false,"zero":false},"axis":{"title":"Voltage (V)","values":[2,2.5,3,3.5,4,4.5,5],"labelExpr":"datum.value % 1 == 0 ? '' + datum.value : ''","tickSize":-3,"labelPadding":5,"titlePadding":1,"labelOverlap":false}},
   "y":{"field":"q","type":"quantitative","scale":{"domain":[-400,800,1200,1400],"range":[119,15,9.5,0],"nice":false,"zero":false},"axis":{"title":"dQ/dV","values":[-400,0,400,800,1200],"labels":false,"tickSize":3,"titlePadding":12,"labelOverlap":false}},
   "color":{"field":"c","type":"nominal","scale":{"domain":["1st","10th","20th","30th"],"range":["#111111","#f5325f","#2fe02f","#3043d8"]},"legend":null},
   "detail":{"field":"b"},
   "order":{"value":null}}},
 {"data":{"name":"ylab"},"mark":{"type":"text","align":"right","baseline":"middle","dx":-4,"fontSize":7,"fontWeight":"bold","font":"Liberation Serif","color":"black"},"encoding":{"x":{"datum":2,"axis":{"labelOverlap":false}},"y":{"field":"t","type":"quantitative","axis":{"labelOverlap":false}},"text":{"field":"t","type":"nominal"}}},
 {"data":{"values":[{}]},"mark":{"type":"text","align":"left","baseline":"middle","fontSize":12,"fontWeight":"bold","font":"Liberation Serif"},"encoding":{"x":{"datum":2.07,"axis":{"labelOverlap":false}},"y":{"datum":1060,"axis":{"labelOverlap":false}},"text":{"value":"(b)"}}},
 {"data":{"values":[{"v":2},{"v":4.97}]},"mark":{"type":"text","fontSize":7,"font":"DejaVu Sans","angle":-25},"encoding":{"x":{"field":"v","type":"quantitative","axis":{"labelOverlap":false}},"y":{"datum":1050,"axis":{"labelOverlap":false}},"text":{"value":"≈"}}}
]},
{"width":152,"height":119,"layer":[
 {"data":{"name":"curves"},"transform":[{"filter":"datum.p == 'c'"}],"mark":{"type":"line","strokeWidth":1.3},
  "encoding":{
   "x":{"field":"v","type":"quantitative","scale":{"domain":[2,5],"nice":false,"zero":false},"axis":{"title":"Voltage (V)","values":[2,2.5,3,3.5,4,4.5,5],"labelExpr":"datum.value % 1 == 0 ? '' + datum.value : ''","tickSize":-3,"labelPadding":5,"titlePadding":1,"labelOverlap":false}},
   "y":{"field":"q","type":"quantitative","scale":{"domain":[-400,800,1200,1400],"range":[119,15,9.5,0],"nice":false,"zero":false},"axis":{"title":"dQ/dV","values":[-400,0,400,800,1200],"labels":false,"tickSize":3,"titlePadding":12,"labelOverlap":false}},
   "color":{"field":"c","type":"nominal","scale":{"domain":["1st","10th","20th","30th"],"range":["#111111","#f5325f","#2fe02f","#3043d8"]},"legend":null},
   "detail":{"field":"b"},
   "order":{"value":null}}},
 {"data":{"name":"ylab"},"mark":{"type":"text","align":"right","baseline":"middle","dx":-4,"fontSize":7,"fontWeight":"bold","font":"Liberation Serif","color":"black"},"encoding":{"x":{"datum":2,"axis":{"labelOverlap":false}},"y":{"field":"t","type":"quantitative","axis":{"labelOverlap":false}},"text":{"field":"t","type":"nominal"}}},
 {"data":{"values":[{}]},"mark":{"type":"text","align":"left","baseline":"middle","fontSize":12,"fontWeight":"bold","font":"Liberation Serif"},"encoding":{"x":{"datum":2.07,"axis":{"labelOverlap":false}},"y":{"datum":1060,"axis":{"labelOverlap":false}},"text":{"value":"(c)"}}},
 {"data":{"values":[{"v":2},{"v":5}]},"mark":{"type":"text","fontSize":8,"font":"DejaVu Sans","angle":-25},"encoding":{"x":{"field":"v","type":"quantitative","axis":{"labelOverlap":false}},"y":{"datum":1050,"axis":{"labelOverlap":false}},"text":{"value":"≈"}}}
]},
{"width":152,"height":119,"layer":[
 {"data":{"name":"curves"},"transform":[{"filter":"datum.p == 'd'"}],"mark":{"type":"line","strokeWidth":1.3},
  "encoding":{
   "x":{"field":"v","type":"quantitative","scale":{"domain":[2,5],"nice":false,"zero":false},"axis":{"title":"Voltage (V)","values":[2,2.5,3,3.5,4,4.5,5],"labelExpr":"datum.value % 1 == 0 ? '' + datum.value : ''","tickSize":-3,"labelPadding":5,"titlePadding":1,"labelOverlap":false}},
   "y":{"field":"q","type":"quantitative","scale":{"domain":[-400,800,1200,1400],"range":[119,15,9.5,0],"nice":false,"zero":false},"axis":{"title":"dQ/dV","values":[-400,0,400,800,1200],"labels":false,"tickSize":3,"titlePadding":12,"labelOverlap":false}},
   "color":{"field":"c","type":"nominal","scale":{"domain":["1st","10th","20th","30th"],"range":["#111111","#f5325f","#2fe02f","#3043d8"]},"legend":null},
   "detail":{"field":"b"},
   "order":{"value":null}}},
 {"data":{"name":"ylab"},"mark":{"type":"text","align":"right","baseline":"middle","dx":-4,"fontSize":7,"fontWeight":"bold","font":"Liberation Serif","color":"black"},"encoding":{"x":{"datum":2,"axis":{"labelOverlap":false}},"y":{"field":"t","type":"quantitative","axis":{"labelOverlap":false}},"text":{"field":"t","type":"nominal"}}},
 {"data":{"values":[{}]},"mark":{"type":"text","align":"left","baseline":"middle","fontSize":12,"fontWeight":"bold","font":"Liberation Serif"},"encoding":{"x":{"datum":2.07,"axis":{"labelOverlap":false}},"y":{"datum":1060,"axis":{"labelOverlap":false}},"text":{"value":"(d)"}}},
 {"data":{"values":[{"v":2},{"v":4.97}]},"mark":{"type":"text","fontSize":7,"font":"DejaVu Sans","angle":-25},"encoding":{"x":{"field":"v","type":"quantitative","axis":{"labelOverlap":false}},"y":{"datum":1050,"axis":{"labelOverlap":false}},"text":{"value":"≈"}}}
]}
]
}
